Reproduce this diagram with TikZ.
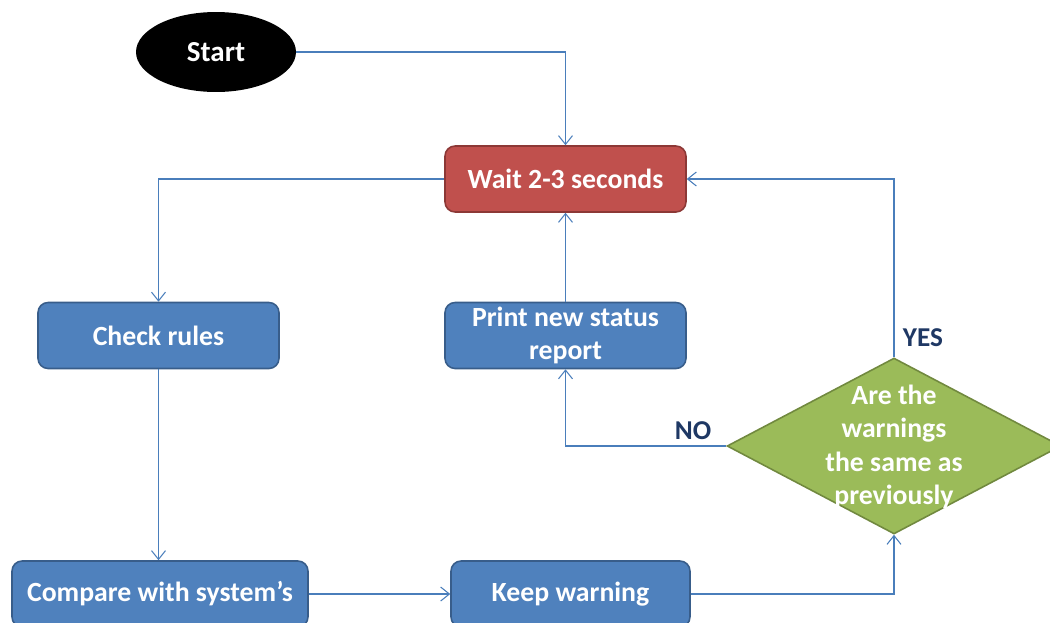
\documentclass[tikz,border=0pt]{standalone}
\usepackage{fontspec}
\setmainfont{Carlito}
\usetikzlibrary{shapes.geometric,arrows.meta}
\definecolor{boxblue}{HTML}{4F81BD}
\definecolor{boxblueedge}{HTML}{385D8A}
\definecolor{boxred}{HTML}{C0504D}
\definecolor{boxrededge}{HTML}{8C3836}
\definecolor{boxgreen}{HTML}{9BBB59}
\definecolor{boxgreenedge}{HTML}{71893F}
\definecolor{linkblue}{HTML}{4A7EBB}
\definecolor{labelnavy}{HTML}{1F3864}
\tikzset{
  procbox/.style={rectangle, rounded corners=0.2cm, line width=0.9pt,
    minimum width=4.82cm, minimum height=1.32cm, inner sep=2pt,
    text=white, font=\fontsize{15.8}{18.8}\selectfont\bfseries, align=center},
  bluebox/.style={procbox, fill=boxblue, draw=boxblueedge},
  redbox/.style={procbox, fill=boxred, draw=boxrededge},
  link/.style={draw=linkblue, line width=0.6pt, -{Straight Barb[length=5pt,width=8pt]}},
  branchlabel/.style={text=labelnavy, font=\fontsize{15.5}{18}\selectfont\bfseries}
}
\begin{document}
\begin{tikzpicture}[x=0.02cm, y=-0.02cm]
\useasboundingbox (0,0) rectangle (1050,622);
\clip (0,0) rectangle (1050,622);

% terminal
\node[ellipse, fill=black, minimum width=3.2cm, minimum height=1.6cm, inner sep=0,
      text=white, font=\fontsize{16.5}{19}\selectfont\bfseries] (start) at (216,52) {Start};

% process steps
\node[redbox] (wait) at (565.5,179) {Wait 2-3 seconds};
\node[bluebox] (check) at (158.5,335.5) {Check rules};
\node[bluebox] (print) at (565.5,335.5) {Print new status\\report};
\node[bluebox, minimum width=5.92cm] (compare) at (160,594) {Compare with system’s};
\node[bluebox, minimum width=4.78cm] (keep) at (570.5,594) {Keep warning};

% decision
\node[diamond, fill=boxgreen, draw=boxgreenedge, line width=0.9pt, inner sep=0,
      minimum width=6.68cm, minimum height=3.52cm] (dec) at (894,446) {};
\node[text=white, font=\fontsize{15.8}{18.9}\selectfont\bfseries, align=center]
      (dectext) at (894,447) {Are the\\warnings\\the same as\\previously};

% connectors
\draw[link] (start.east) -| (wait.north);
\draw[link] (wait.west) -| (check.north);
\draw[link] (check.south) -- (check.south |- compare.north);
\draw[link] (compare.east) -- (keep.west);
\draw[link] (keep.east) -| (dec.south);
\draw[link] (dec.west) -| (print.south);
\draw[link] (dec.north) |- (wait.east);
\draw[link] (print.north) -- (wait.south);

% branch labels
\node[branchlabel] (nolabel) at (693,431) {NO};
\node[branchlabel] (yeslabel) at (923,338) {YES};
\end{tikzpicture}
\end{document}
